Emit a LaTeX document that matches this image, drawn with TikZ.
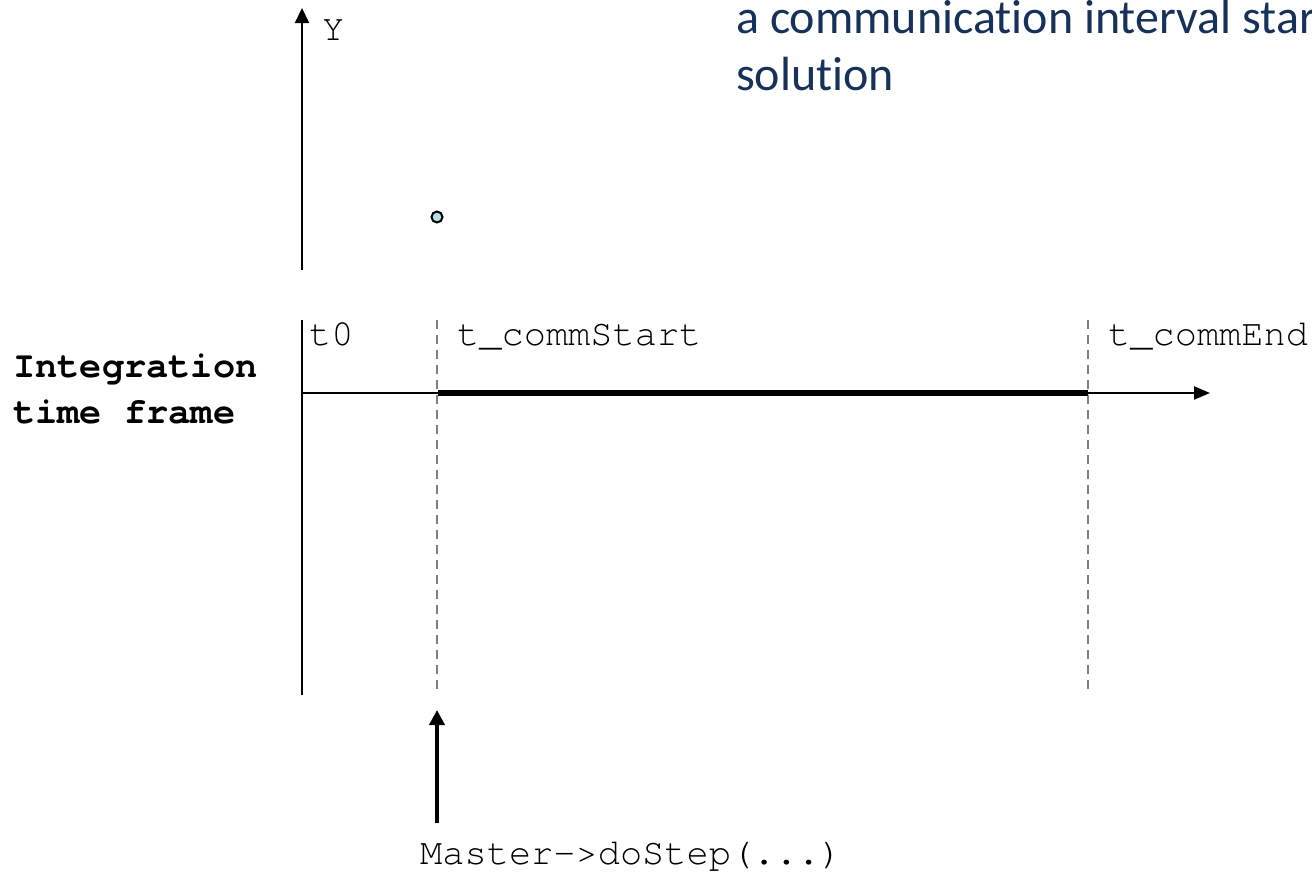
\documentclass[tikz,border=0pt]{standalone}
\usepackage{fontspec}
\setmonofont{TeX Gyre Cursor}
\newfontfamily\bluefont{Carlito}[Ligatures=NoCommon]
\usetikzlibrary{arrows.meta}
\definecolor{navytext}{RGB}{23,50,90}
\definecolor{dashgray}{RGB}{128,128,128}
\definecolor{dotfill}{RGB}{183,221,232}
\tikzset{
  monolabel/.style={inner sep=0pt, anchor=base west, font=\fontsize{37}{40}\selectfont\ttfamily},
  boldlabel/.style={inner sep=0pt, anchor=base west, font=\fontsize{37}{40}\selectfont\ttfamily\bfseries},
  bluelabel/.style={inner sep=0pt, anchor=base west, text=navytext, font=\fontsize{48}{57}\selectfont\bluefont},
  axisline/.style={line width=2pt, -{Triangle[length=15pt,width=14pt]}},
  plainline/.style={line width=2pt},
  thickseg/.style={line width=5.5pt},
  gridline/.style={draw=dashgray, line width=1.5pt, dash pattern=on 9pt off 6pt},
  callarrow/.style={line width=4pt, -{Triangle[length=15pt,width=15pt]}}
}
\begin{document}
\begin{tikzpicture}[x=1pt,y=-1pt]
\path[use as bounding box, clip] (0,0) rectangle (1312,873);
\fill[white] (0,0) rectangle (1312,873);

% coordinates
\coordinate (yaxBot) at (302,270);
\coordinate (yaxTop) at (302,8);
\coordinate (frameTop) at (302,320);
\coordinate (frameBot) at (302,695);
\coordinate (taxStart) at (302,393);
\coordinate (taxEnd) at (1210,393);
\coordinate (csTop) at (437,320);
\coordinate (csBot) at (437,692);
\coordinate (ceTop) at (1088,320);
\coordinate (ceBot) at (1088,692);
\coordinate (csAxis) at (438,393);
\coordinate (ceAxis) at (1088,393);
\coordinate (callTip) at (437,710);
\coordinate (callBase) at (437,823);

% y axis
\draw[axisline] (yaxBot) -- (yaxTop);
\node[monolabel] (ylab) at (322,40) {Y};

% sample point
\node[circle, draw=black, fill=dotfill, line width=2pt, minimum size=11pt, inner sep=0pt] (pt) at (437,217) {};

% title text
\node[bluelabel] (title1) at (736,33) {a communication interval start};
\node[bluelabel] (title2) at (736,90) {solution};

% time frame
\draw[plainline] (frameTop) -- (frameBot);
\draw[gridline] (csTop) -- (csBot);
\draw[gridline] (ceTop) -- (ceBot);
\draw[axisline, -{Triangle[length=16pt,width=13pt]}] (taxStart) -- (taxEnd);
\draw[thickseg] (csAxis) -- (ceAxis);

\node[monolabel] (t0) at (309,345) {t0};
\node[monolabel] (tcs) at (457,345) {t\_commStart};
\node[monolabel] (tce) at (1108,345) {t\_commEnd};

\node[boldlabel] (int1) at (13,377) {Integration};
\node[boldlabel] (int2) at (13,423) {time frame};

% master call
\draw[callarrow] (callBase) -- (callTip);
\node[monolabel] (master) at (420,864) {Master->doStep(...)};
\end{tikzpicture}
\end{document}
